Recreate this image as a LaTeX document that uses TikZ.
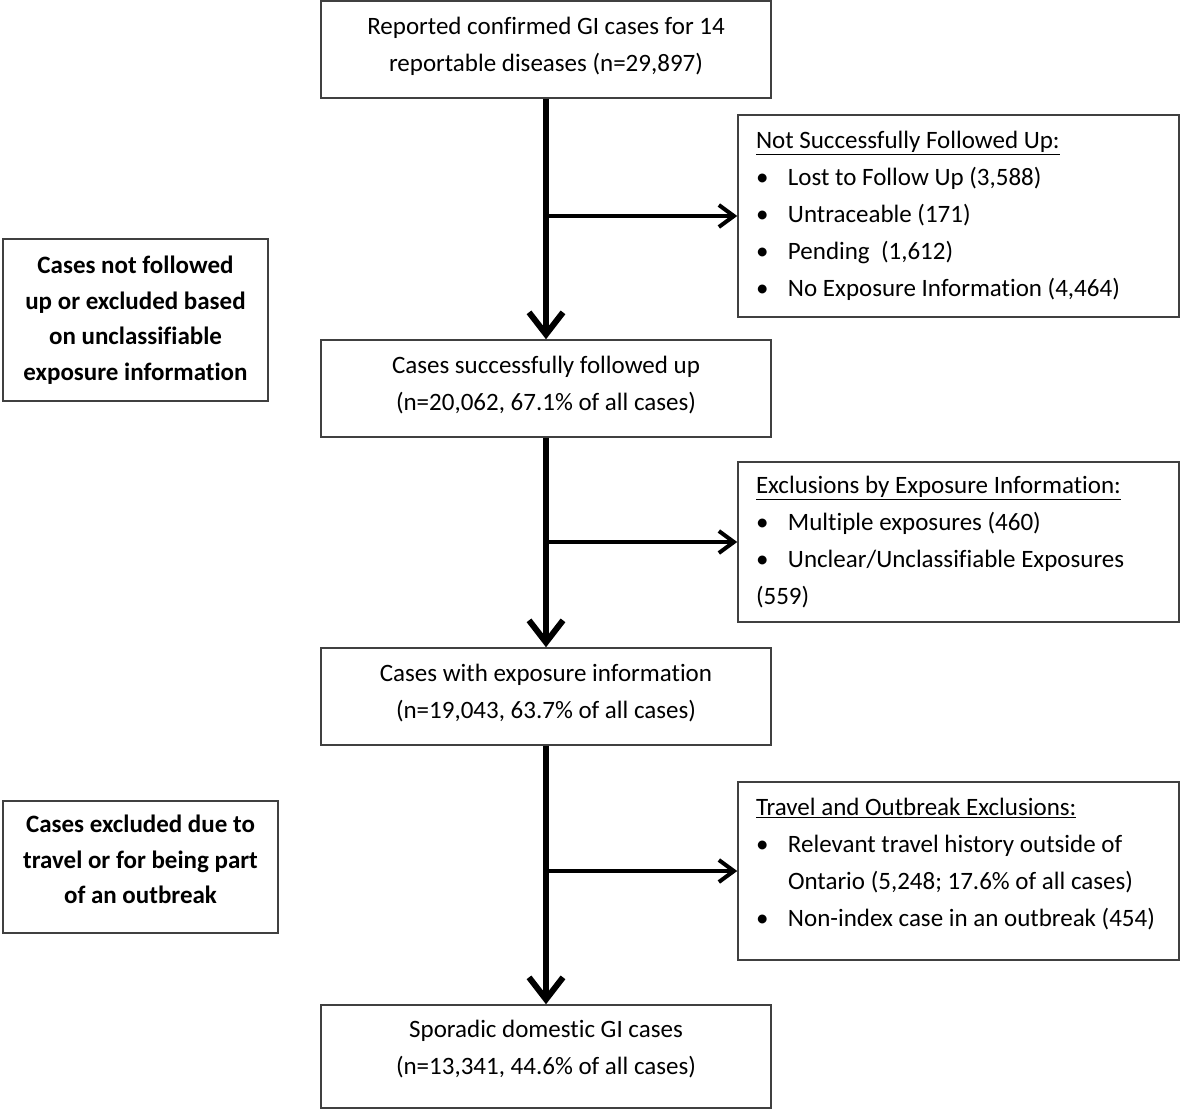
\documentclass[tikz,border=0pt]{standalone}
\usepackage{fontspec}
\setmainfont{Carlito}[Ligatures=NoCommon]
\usetikzlibrary{arrows.meta}
\def\mainx{546}
\def\sidex{958.5}
\newcommand{\itm}[1]{\mbox{\makebox[32pt][l]{\textbullet}#1}}
\newcommand{\cont}[1]{\mbox{\hspace*{32pt}#1}}

\begin{document}
\begin{tikzpicture}[x=1pt,y=-1pt,draw=black!75]
    \tikzstyle{box}=[draw,line width=1.5pt,inner sep=0pt,font=\fontsize{25}{37}\selectfont]
    \tikzstyle{main box}=[box,align=center,minimum width=450pt,minimum height=97pt,text depth=11pt]
    \tikzstyle{side box}=[box,align=flush left,text width=405pt,inner xsep=18pt]
    \tikzstyle{note box}=[box,align=center,font=\bfseries\fontsize{25}{35.5}\selectfont]
    \tikzstyle{flow}=[draw=black,line width=6pt,-{Straight Barb[length=22pt,width=34pt]}]
    \tikzstyle{branch}=[draw=black,line width=4pt,-{Straight Barb[length=15pt,width=22pt]}]

    \useasboundingbox (0,0) rectangle (1183,1111);

    % Draw the main column of boxes
    \node[main box] (M-1) at (\mainx,49.5) {Reported confirmed GI cases for 14\\reportable diseases (n=29,897)};
    \node[main box] (M-2) at (\mainx,388.5) {Cases successfully followed up\\(n=20,062, 67.1\% of all cases)};
    \node[main box] (M-3) at (\mainx,696.5) {Cases with exposure information\\(n=19,043, 63.7\% of all cases)};
    \node[main box,minimum height=103pt,text depth=19pt] (M-4) at (\mainx,1056.5) {Sporadic domestic GI cases\\(n=13,341, 44.6\% of all cases)};

    % Draw the boxes with the exclusions
    \node[side box,minimum height=202pt] (S-1) at (\sidex,216) {\underline{Not Successfully Followed Up:}\\
        \itm{Lost to Follow Up (3,588)}\\
        \itm{Untraceable (171)}\\
        \itm{Pending~ (1,612)}\\
        \itm{No Exposure Information (4,464)}};
    \node[side box,minimum height=160pt] (S-2) at (\sidex,542) {\underline{Exclusions by Exposure Information:}\\
        \itm{Multiple exposures (460)}\\
        \itm{Unclear/Unclassifiable Exposures}\\
        (559)};
    \node[side box,minimum height=178pt] (S-3) at (\sidex,871) {\underline{Travel and Outbreak Exclusions:}\\
        \itm{Relevant travel history outside of}\\
        \cont{Ontario (5,248; 17.6\% of all cases)}\\
        \itm{Non-index case in an outbreak (454)}\rule[-17pt]{0pt}{17pt}};

    % Annotate the stages on the left
    \node[note box,minimum width=265pt,minimum height=162pt] (N-1) at (135.5,320) {Cases not followed\\up or excluded based\\on unclassifiable\\exposure information};
    \node[note box,minimum width=275pt,minimum height=132pt,text depth=15pt] (N-2) at (140.5,867) {Cases excluded due to\\travel or for being part\\of an outbreak};

    % Connect every main box with the next one
    \foreach \source / \dest in {1/2,2/3,3/4}
        \draw[flow] (M-\source) -- (M-\dest);

    % Branch off to the exclusions
    \foreach \n in {1,2,3}
        \draw[branch] (M-\n.south |- S-\n.west) -- (S-\n.west);
\end{tikzpicture}
\end{document}
